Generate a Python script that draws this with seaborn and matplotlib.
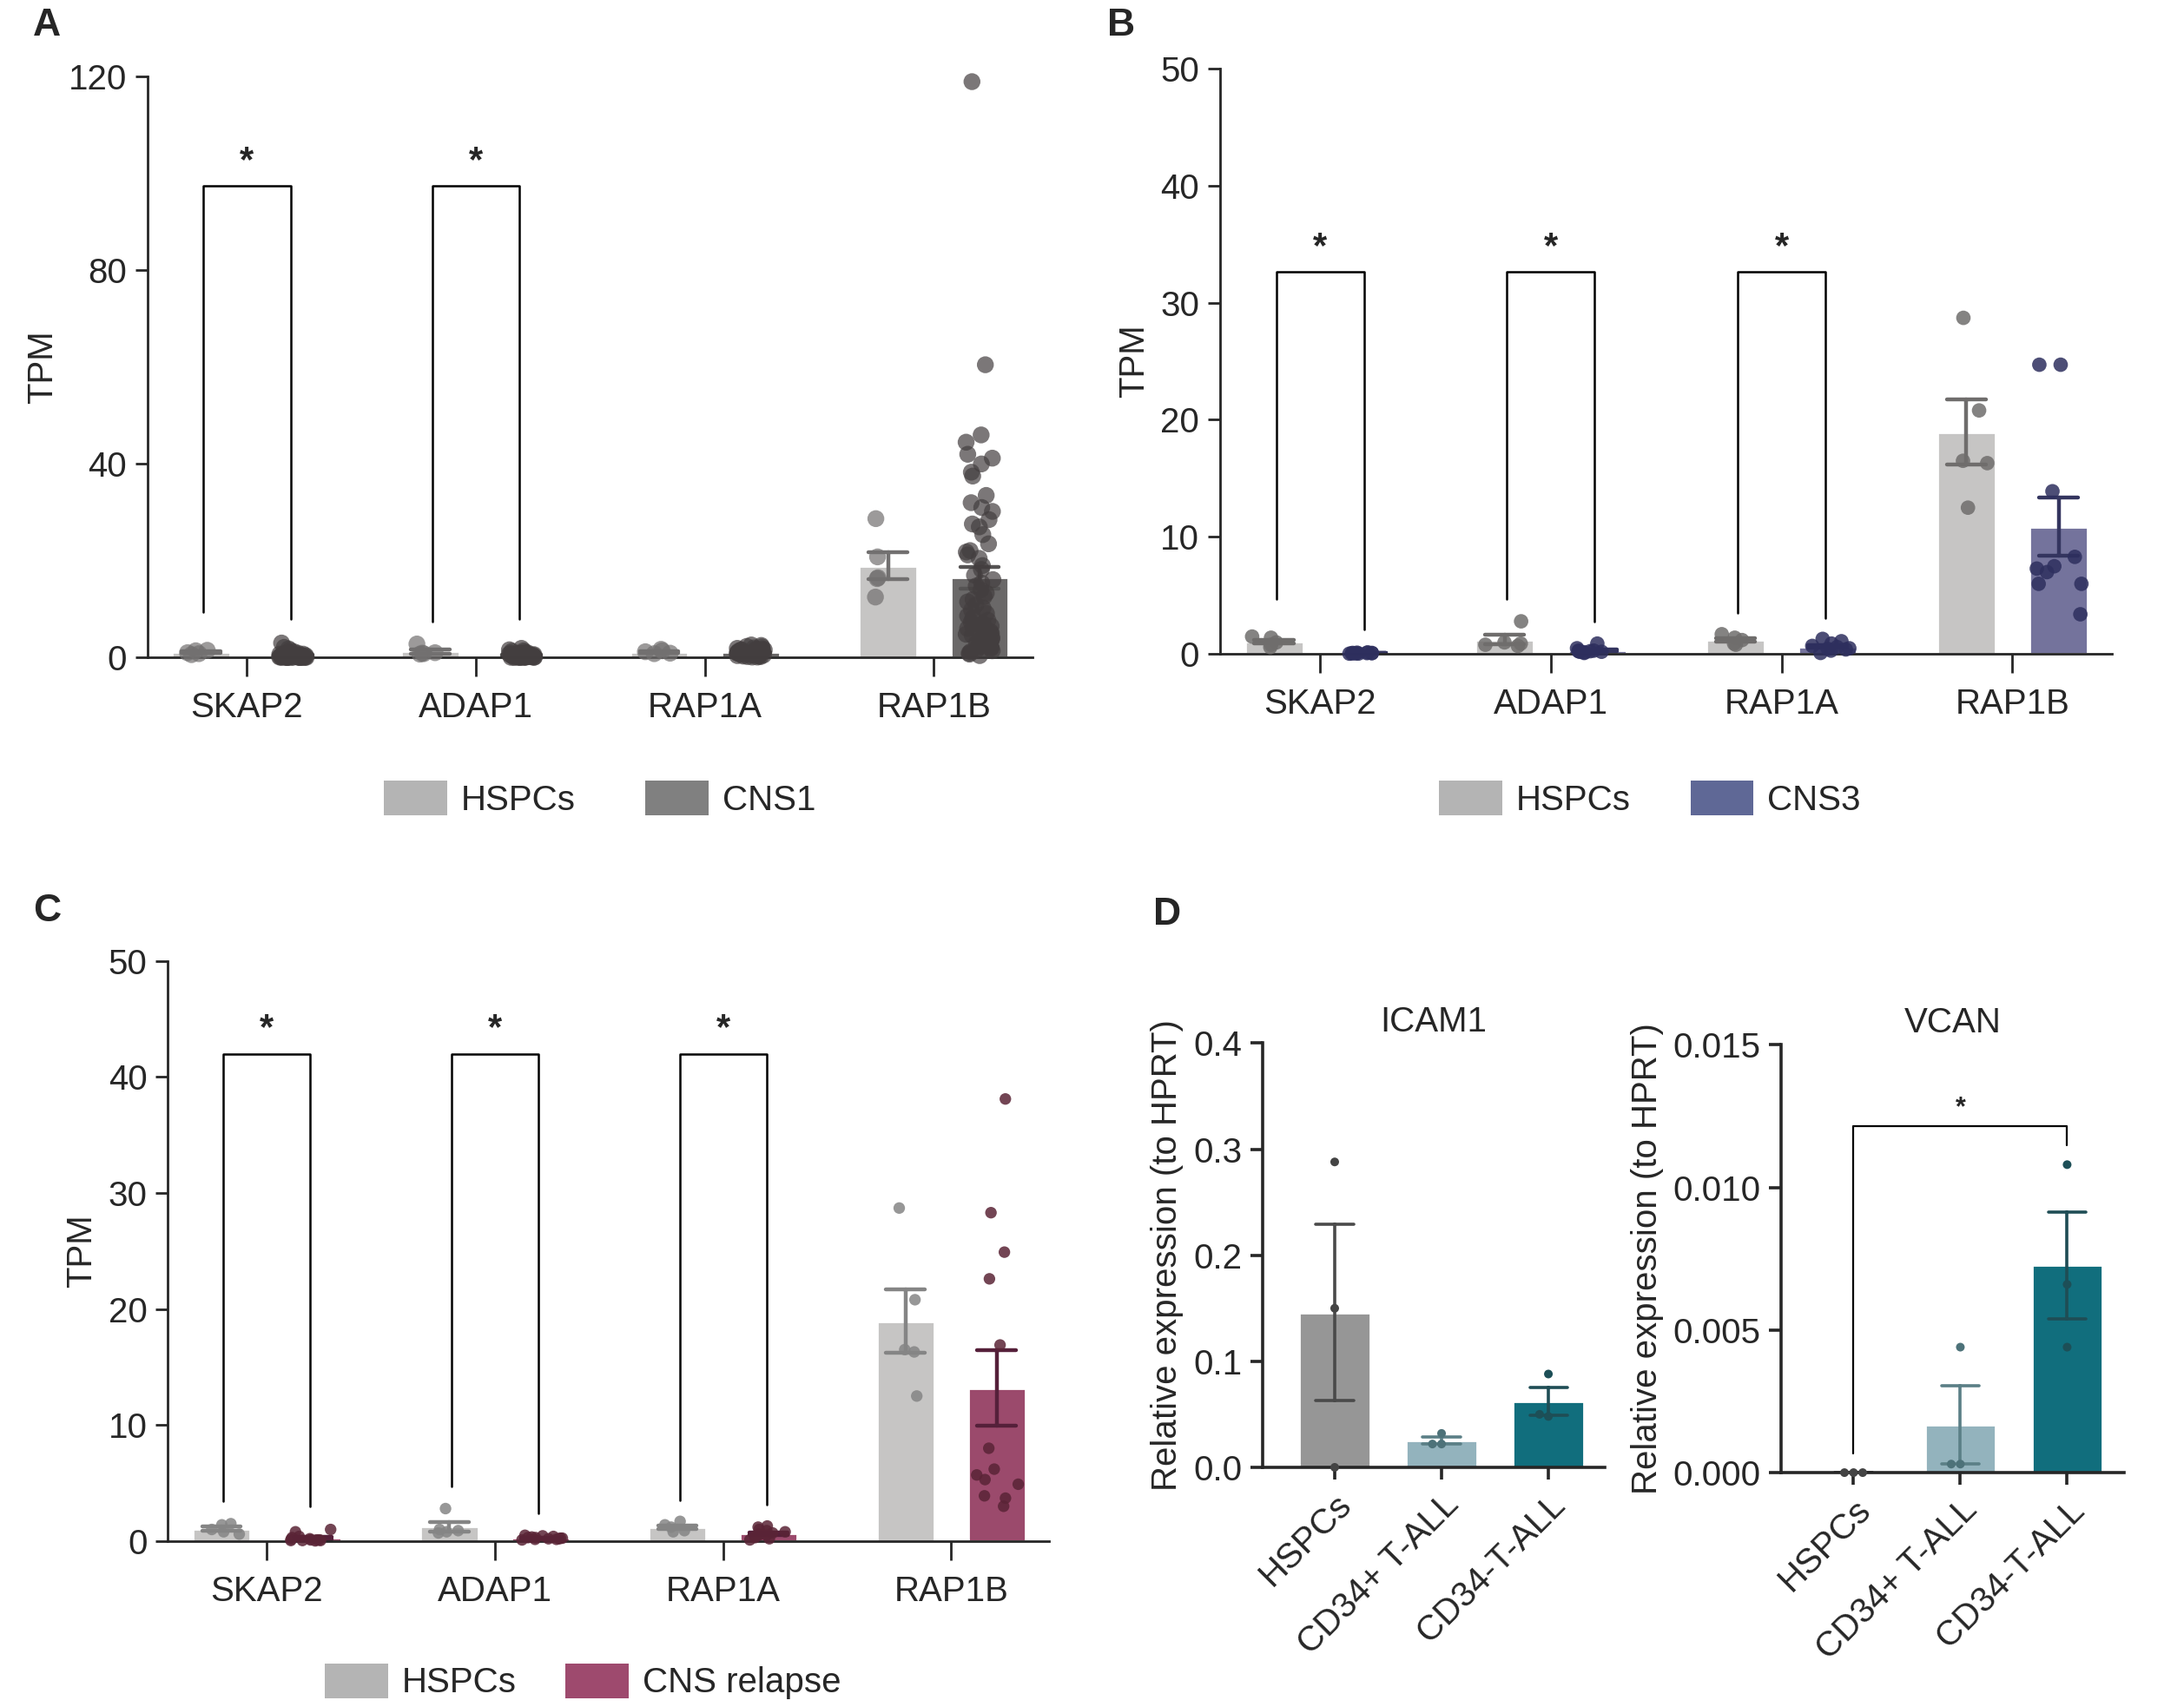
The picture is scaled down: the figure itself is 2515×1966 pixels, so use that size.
"""
Figure: TPM of adhesion genes (A-C) and qPCR of ICAM1 / VCAN (D)
"""

import matplotlib
matplotlib.use("Agg")
import matplotlib.pyplot as plt
from matplotlib.patches import Patch
import numpy as np
import pandas as pd
import seaborn as sns

# ---------------- data ----------------
genes = ["SKAP2", "ADAP1", "RAP1A", "RAP1B"]

# HSPCs (n=5), shared in panels A-C
hspc_skap2 = [0.8, 1.5, 1.0, 1.4, 0.6]
hspc_adap1 = [0.7, 2.8, 1.0, 0.9, 0.8]
hspc_rap1a = [0.9, 1.7, 1.2, 1.4, 0.8]
hspc_rap1b = [16.5, 28.7, 20.8, 12.5, 16.3]

# CNS1
cns1_skap2 = [3.0, 2.1, 1.8, 1.5, 1.2, 1.0, 0.9, 0.8, 0.7, 0.7, 0.6, 0.6, 0.5, 0.5, 0.5,
              0.4, 0.4, 0.4, 0.3, 0.3, 0.3, 0.3, 0.2, 0.2, 0.2, 0.2, 0.2, 0.1, 0.1, 0.1,
              0.1, 0.1, 0.1, 0.1, 0.05, 0.05, 0.05, 0.05, 0.0, 0.0, 0.0, 0.0, 0.0, 0.0]
cns1_adap1 = [1.9, 1.6, 1.4, 1.3, 1.1, 1.0, 0.9, 0.9, 0.8, 0.8, 0.7, 0.7, 0.6, 0.6, 0.6,
              0.5, 0.5, 0.5, 0.4, 0.4, 0.4, 0.4, 0.3, 0.3, 0.3, 0.3, 0.2, 0.2, 0.2, 0.2,
              0.2, 0.1, 0.1, 0.1, 0.1, 0.1, 0.05, 0.05, 0.05, 0.0, 0.0, 0.0]
cns1_rap1a = [2.6, 2.5, 2.3, 2.2, 2.0, 1.9, 1.8, 1.7, 1.6, 1.6, 1.5, 1.4, 1.4, 1.3, 1.3,
              1.2, 1.2, 1.1, 1.1, 1.0, 1.0, 0.9, 0.9, 0.9, 0.8, 0.8, 0.7, 0.7, 0.6, 0.6,
              0.5, 0.5, 0.4, 0.4, 0.3, 0.3, 0.2, 0.2, 0.1, 0.1]
cns1_rap1b = [119.0, 60.5, 46.0, 44.5, 42.0, 41.2, 40.0, 38.3, 37.5, 33.5, 32.0, 31.0,
              30.2, 28.5, 27.6, 27.0, 25.4, 23.5, 22.1, 21.8, 21.2, 20.5, 19.0, 18.2,
              17.0, 16.1, 15.4, 14.8, 14.0, 13.3, 12.6, 12.0, 11.5, 10.9, 10.2, 9.8,
              9.1, 8.6, 8.2, 7.7, 7.3, 7.0, 6.8, 6.5, 6.2, 6.0, 5.8, 5.5, 5.3, 5.0,
              4.8, 4.6, 4.3, 4.1, 3.9, 3.6, 3.4, 3.2, 3.0, 2.8, 2.5, 2.3, 2.1, 1.9,
              1.6, 1.4, 1.2, 0.9, 0.7, 0.4]

# CNS3
cns3_skap2 = [0.05, 0.1, 0.08, 0.12, 0.06, 0.1, 0.15, 0.04, 0.09, 0.07]
cns3_adap1 = [0.9, 0.5, 0.3, 0.25, 0.2, 0.2, 0.15, 0.3, 0.1, 0.25]
cns3_rap1a = [1.3, 1.1, 0.9, 0.7, 0.6, 0.5, 0.45, 0.4, 0.1, 0.3]
cns3_rap1b = [24.7, 24.7, 13.9, 8.3, 7.5, 7.3, 7.0, 6.0, 6.0, 3.4]

# CNS relapse
rel_skap2 = [1.0, 0.8, 0.4, 0.3, 0.2, 0.15, 0.1, 0.1, 0.05, 0.05, 0.1, 0.05, 0.02]
rel_adap1 = [0.5, 0.45, 0.4, 0.35, 0.3, 0.3, 0.25, 0.25, 0.2, 0.2, 0.15, 0.15, 0.1]
rel_rap1a = [1.3, 1.2, 1.0, 0.9, 0.8, 0.7, 0.6, 0.5, 0.5, 0.4, 0.3, 0.2, 0.1]
rel_rap1b = [38.1, 28.3, 24.9, 22.6, 16.9, 8.0, 6.2, 5.7, 5.3, 4.9, 3.9, 3.7, 3.0]

# significance brackets: (top, left leg end, right leg end) per gene, None = no bracket
brackets_a = [(97.5, 9.4, 8.0), (97.5, 7.4, 8.0), None, None]
brackets_b = [(32.6, 4.7, 2.1), (32.6, 4.7, 2.8), (32.6, 3.5, 3.1), None]
brackets_c = [(42.0, 3.4, 3.0), (42.0, 4.7, 2.4), (42.0, 3.5, 3.1), None]

# panel D (qPCR)
d_groups = ["HSPCs", "CD34+ T-ALL", "CD34-T-ALL"]
icam1_hspc = [0.288, 0.150, 0.0]
icam1_cd34pos = [0.032, 0.022, 0.022]
icam1_cd34neg = [0.088, 0.050, 0.048]
vcan_hspc = [0.0, 0.0, 0.0]
vcan_cd34pos = [0.0044, 0.0003, 0.0003]
vcan_cd34neg = [0.0108, 0.0066, 0.0044]
vcan_bracket = (0.01216, 0.00066, 0.01147)


def long_df(name, cols):
    rows = [(g, name, v) for g, vals in zip(genes, cols) for v in vals]
    return pd.DataFrame(rows, columns=["gene", "group", "tpm"])


hspc_df = long_df("HSPCs", [hspc_skap2, hspc_adap1, hspc_rap1a, hspc_rap1b])
cns1_df = long_df("CNS1", [cns1_skap2, cns1_adap1, cns1_rap1a, cns1_rap1b])
cns3_df = long_df("CNS3", [cns3_skap2, cns3_adap1, cns3_rap1a, cns3_rap1b])
rel_df = long_df("CNS relapse", [rel_skap2, rel_adap1, rel_rap1a, rel_rap1b])

# ---------------- style ----------------
sns.set_style("ticks")
plt.rcParams["font.family"] = ["Liberation Sans", "DejaVu Sans"]
plt.rcParams["axes.linewidth"] = 1.0
plt.rcParams["xtick.major.width"] = 1.0
plt.rcParams["ytick.major.width"] = 1.0
FS = 14.5

HSPC_BAR, HSPC_PT = "#c6c5c4", "#6f6d6c"


def tpm_panel(ax, df, tumour, bar_col, pt_col, err_col, ymax, yticks, brackets,
              pt_size, hspc_pt, pt_alpha, jitter, seed):
    order_h = ["HSPCs", tumour]
    sns.barplot(data=df, x="gene", y="tpm", hue="group", order=genes, hue_order=order_h,
                palette=[HSPC_BAR, bar_col], errorbar=None, width=0.8, gap=0.37,
                saturation=1, legend=False, ax=ax)
    np.random.seed(seed)
    sns.stripplot(data=df, x="gene", y="tpm", hue="group", order=genes, hue_order=order_h,
                  palette=[hspc_pt, pt_col], dodge=True, jitter=jitter, size=pt_size,
                  alpha=pt_alpha, linewidth=0, legend=False, ax=ax, clip_on=False, zorder=3)
    sns.pointplot(data=df, x="gene", y="tpm", hue="group", order=genes, hue_order=order_h,
                  palette=[hspc_pt, err_col], dodge=0.4, linestyle="none", marker="o",
                  markersize=0, errorbar="se", capsize=0.17,
                  err_kws={"linewidth": 1.6}, legend=False, ax=ax)
    for i, br in enumerate(brackets):
        if br is None:
            continue
        top, yl, yr = br
        ax.plot([i - 0.19, i - 0.19, i + 0.19, i + 0.19], [yl, top, top, yr],
                color="black", lw=0.9, zorder=4)
        ax.text(i, top + ymax * 0.012, "*", ha="center", va="bottom",
                fontsize=15, fontweight="bold")
    ax.set_xlim(-0.435, 3.43)
    ax.set_ylim(0, ymax)
    ax.set_yticks(yticks)
    ax.set_xlabel("")
    ax.set_ylabel("TPM", fontsize=FS)
    ax.tick_params(axis="y", labelsize=FS, length=5)
    ax.tick_params(axis="x", labelsize=FS, length=8, pad=6)
    sns.despine(ax=ax)


def qpcr_panel(ax, vals, title, ymax, yticks, fmt, bracket=None):
    df = pd.DataFrame([(g, v) for g, vs in zip(d_groups, vals) for v in vs],
                      columns=["group", "expr"])
    sns.barplot(data=df, x="group", y="expr", hue="group", order=d_groups,
                palette=["#969696", "#93b3bd", "#116e7d"], errorbar=None, width=0.66,
                saturation=1, legend=False, ax=ax)
    sns.swarmplot(data=df, x="group", y="expr", hue="group", order=d_groups,
                  palette=["#444444", "#4d7279", "#1d4f57"], size=3.6, legend=False,
                  ax=ax, clip_on=False, zorder=3)
    sns.pointplot(data=df, x="group", y="expr", hue="group", order=d_groups,
                  palette=["#4a4a4a", "#5b7f86", "#1f4d55"], linestyle="none",
                  marker="o", markersize=0, errorbar="se", capsize=0.35,
                  err_kws={"linewidth": 1.3}, legend=False, ax=ax)
    if bracket is not None:
        top, yl, yr = bracket
        ax.plot([0, 0, 2, 2], [yl, top, top, yr], color="black", lw=0.8)
        ax.text(1, top + ymax * 0.01, "*", ha="center", va="bottom", fontsize=11,
                fontweight="bold")
    ax.set_xlim(-0.675, 2.53)
    ax.set_ylim(0, ymax)
    ax.set_yticks(yticks)
    ax.set_yticklabels([fmt.format(t) for t in yticks])
    ax.set_xlabel("")
    ax.set_ylabel("Relative expression (to HPRT)", fontsize=FS)
    ax.set_title(title, fontsize=FS, pad=5)
    ax.tick_params(axis="y", labelsize=FS, length=5, width=1.3)
    ax.tick_params(axis="x", labelsize=FS, length=5, width=1.3)
    plt.setp(ax.get_xticklabels(), rotation=45, ha="right", rotation_mode="anchor")
    for s in ["left", "bottom"]:
        ax.spines[s].set_linewidth(1.3)
    sns.despine(ax=ax)


fig = plt.figure(figsize=(12.575, 9.83), dpi=200)

ax_a = fig.add_axes([0.0675, 0.6148, 0.4726 - 0.0675, 0.955 - 0.6148])
ax_b = fig.add_axes([0.5585, 0.6168, 0.9669 - 0.5585, 0.9600 - 0.6168])
ax_c = fig.add_axes([0.0768, 0.0972, 0.4804 - 0.0768, 0.4371 - 0.0972])
ax_d1 = fig.add_axes([0.5781, 0.1404, 0.7349 - 0.5781, 0.3889 - 0.1404])
ax_d2 = fig.add_axes([0.8157, 0.1373, 0.9724 - 0.8157, 0.3879 - 0.1373])

tpm_panel(ax_a, pd.concat([hspc_df, cns1_df]), "CNS1", "#6a6868", "#433e3f", "#555353",
          120, [0, 40, 80, 120], brackets_a, 7.0, "#727070", 0.7, 0.12, 1)
tpm_panel(ax_b, pd.concat([hspc_df, cns3_df]), "CNS3", "#74739c", "#2e2f5e", "#34355f",
          50, [0, 10, 20, 30, 40, 50], brackets_b, 6.0, HSPC_PT, 0.85, 0.2, 2)
tpm_panel(ax_c, pd.concat([hspc_df, rel_df]), "CNS relapse", "#9b4a6c", "#5a2436", "#55203a",
          50, [0, 10, 20, 30, 40, 50], brackets_c, 4.8, "#858585", 0.85, 0.2, 3)

qpcr_panel(ax_d1, [icam1_hspc, icam1_cd34pos, icam1_cd34neg], "ICAM1", 0.4,
           [0.0, 0.1, 0.2, 0.3, 0.4], "{:.1f}")
qpcr_panel(ax_d2, [vcan_hspc, vcan_cd34pos, vcan_cd34neg], "VCAN", 0.015,
           [0.0, 0.005, 0.010, 0.015], "{:.3f}", bracket=vcan_bracket)


# legends
def add_legend(x, y, labels, colors, colsp):
    handles = [Patch(facecolor=c, edgecolor="none") for c in colors]
    fig.legend(handles, labels, loc="center", bbox_to_anchor=(x, y), ncol=2,
               frameon=False, fontsize=FS, handlelength=1.8, handleheight=1.15,
               handletextpad=0.4, columnspacing=colsp)


add_legend(0.2747, 0.532, ["HSPCs", "CNS1"], ["#b4b4b4", "#808080"], 2.0)
add_legend(0.7555, 0.532, ["HSPCs", "CNS3"], ["#b4b4b4", "#5f6896"], 1.7)
add_legend(0.2670, 0.015, ["HSPCs", "CNS relapse"], ["#b4b4b4", "#9e4a6e"], 1.4)

# panel letters
for lab, x, y in [("A", 0.015, 0.985), ("B", 0.507, 0.985), ("C", 0.015, 0.466),
                  ("D", 0.528, 0.464)]:
    fig.text(x, y, lab, fontsize=16, fontweight="bold", va="center")

fig.savefig("out.png", dpi=200)
